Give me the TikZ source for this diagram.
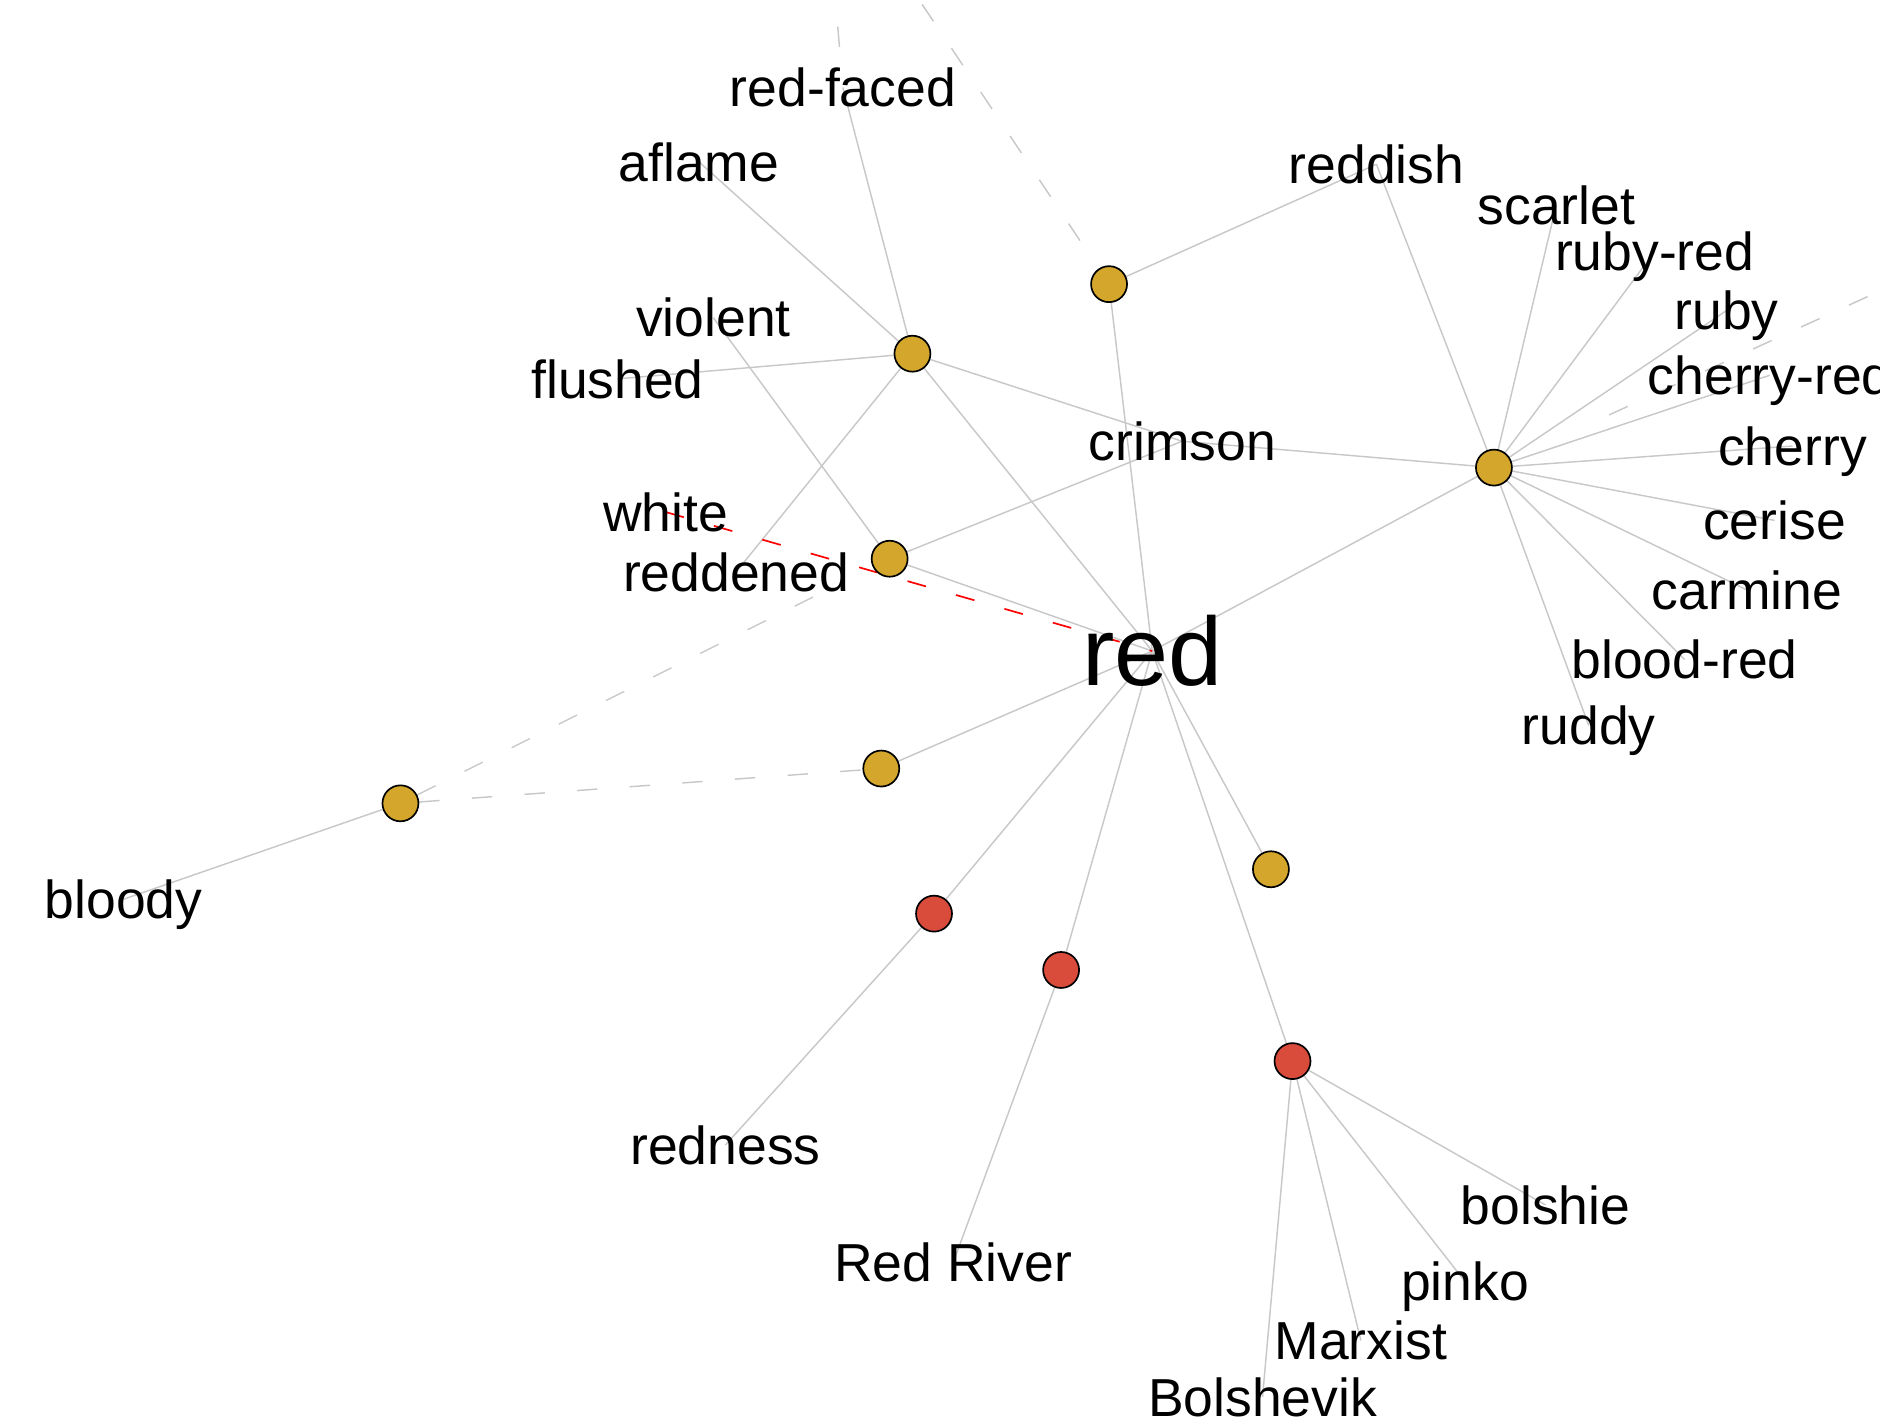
\documentclass[tikz,border=0pt]{standalone}
\usepackage{fontspec}
\setmainfont{Liberation Sans}
\usetikzlibrary{backgrounds}
\definecolor{gold}{HTML}{D4A72C}
\definecolor{rednode}{HTML}{D94B3A}
\definecolor{edgegray}{HTML}{C8C8C8}
\begin{document}
\begin{tikzpicture}[x=0.5pt,y=-0.5pt,
  sense/.style={circle, draw=black, line width=0.7pt, fill=gold, minimum size=15pt, inner sep=0pt},
  nounsense/.style={sense, fill=rednode},
  word/.style={inner sep=0pt, text height=16pt, text depth=0pt, font=\fontsize{22.3pt}{27pt}\selectfont},
  hub/.style={inner sep=0pt, text height=29pt, text depth=0pt, font=\fontsize{40.5pt}{48pt}\selectfont},
  link/.style={draw=edgegray, line width=0.6pt},
  farlink/.style={link, dash pattern=on 8.5pt off 13.5pt},
  antonym/.style={draw=red, line width=0.7pt, dash pattern=on 8pt off 13pt}]
\useasboundingbox (0,0) rectangle (1568,1188);

% sense nodes
\node[sense] (A1) at (925,237) {};
\node[sense] (A2) at (761,295) {};
\node[sense] (A3) at (1246,390) {};
\node[sense] (A4) at (742,466) {};
\node[sense] (A5) at (735,641) {};
\node[sense] (A6) at (334,670) {};
\node[sense] (A7) at (1060,725) {};
\node[nounsense] (R1) at (779,762) {};
\node[nounsense] (R2) at (885,809) {};
\node[nounsense] (R3) at (1078,885) {};

% words
\node[hub] (red) at (961,543) {red};
\node[word] (redfaced) at (703,73) {red-faced};
\node[word] (aflame) at (583,135) {aflame};
\node[word] (reddish) at (1148,137) {reddish};
\node[word] (scarlet) at (1298,171) {scarlet};
\node[word] (rubyred) at (1380,210) {ruby-red};
\node[word] (ruby) at (1440,259) {ruby};
\node[word] (cherryred) at (1476,313) {cherry-red};
\node[word] (cherry) at (1495,372) {cherry};
\node[word] (cerise) at (1480,434) {cerise};
\node[word] (carmine) at (1457,492) {carmine};
\node[word] (bloodred) at (1405,550) {blood-red};
\node[word] (ruddy) at (1325,605) {ruddy};
\node[word] (violent) at (595,265) {violent};
\node[word] (flushed) at (515,316) {flushed};
\node[word] (crimson) at (986,368) {crimson};
\node[word] (white) at (555,427) {white};
\node[word] (reddened) at (614,477) {reddened};
\node[word] (bloody) at (103,750) {bloody};
\node[word] (redness) at (605,955) {redness};
\node[word] (redriver) at (795,1053) {Red River};
\node[word] (bolshie) at (1289,1005) {bolshie};
\node[word] (pinko) at (1222,1069) {pinko};
\node[word] (marxist) at (1135,1118) {Marxist};
\node[word] (bolshevik) at (1053,1165) {Bolshevik};

\coordinate (offA) at (760,-10);
\coordinate (offB) at (696,-10);
\coordinate (offC) at (1600,228);

\begin{pgfonlayer}{background}
\fill[white] (0,0) rectangle (1568,1188);
% solid links
\draw[link] (A1) -- (red.center);
\draw[link] (A1) -- (reddish.center);
\foreach \w in {redfaced,aflame,flushed,reddened,crimson,red}
  \draw[link] (A2) -- (\w.center);
\foreach \w in {reddish,scarlet,rubyred,ruby,cherryred,cherry,cerise,carmine,bloodred,ruddy,crimson,red}
  \draw[link] (A3) -- (\w.center);
\foreach \w in {violent,crimson,red}
  \draw[link] (A4) -- (\w.center);
\draw[link] (A5) -- (red.center);
\draw[link] (A6) -- (bloody.center);
\draw[link] (A7) -- (red.center);
\draw[link] (R1) -- (red.center);
\draw[link] (R1) -- (redness.center);
\draw[link] (R2) -- (red.center);
\draw[link] (R2) -- (redriver.center);
\foreach \w in {red,bolshie,pinko,marxist,bolshevik}
  \draw[link] (R3) -- (\w.center);
% dashed links
\draw[farlink] (A6) -- (A5);
\draw[farlink, shorten >=20pt] (A6) -- (A4);
\draw[farlink, shorten <=14pt] (A1) -- (offA);
\draw[farlink, shorten <=17pt] (redfaced.center) -- (offB);
\draw[farlink, shorten <=45pt] (A3) -- (offC);
% antonym
\draw[antonym] (white.center) -- (red.center);
\end{pgfonlayer}
\end{tikzpicture}
\end{document}
